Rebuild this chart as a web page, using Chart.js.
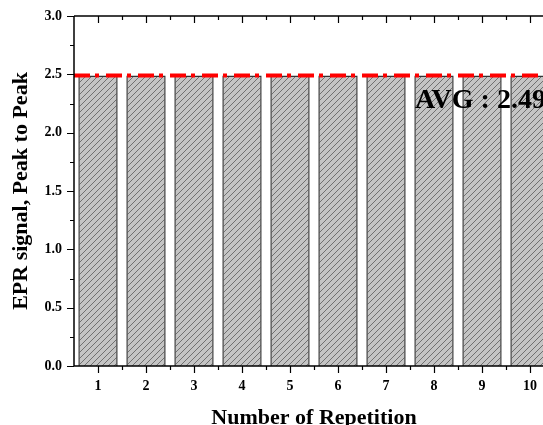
<!DOCTYPE html>
<html>
<head>
<meta charset="utf-8">
<script src="https://cdn.jsdelivr.net/npm/chart.js@4"></script>
<style>
  html, body { margin: 0; padding: 0; background: #fff; overflow: hidden; }
  #wrap { width: 560px; height: 425px; }
</style>
</head>
<body>
<div id="wrap"><canvas id="chart" width="560" height="425"></canvas></div>
<script>
const repetitions = ['1', '2', '3', '4', '5', '6', '7', '8', '9', '10'];
const peakToPeak = [2.49, 2.49, 2.49, 2.49, 2.49, 2.49, 2.49, 2.49, 2.49, 2.49];
const avgValue = 2.49;
const yTicks = [0.0, 0.5, 1.0, 1.5, 2.0, 2.5, 3.0];

const serif = "'Liberation Serif', 'DejaVu Serif', serif";

// hatch fill for the bars
function makeHatch() {
    const c = document.createElement('canvas');
    c.width = 6; c.height = 6;
    const g = c.getContext('2d');
    g.fillStyle = '#c4c4c4';
    g.fillRect(0, 0, 6, 6);
    g.strokeStyle = '#5a5a5a';
    g.lineWidth = 0.8;
    g.beginPath();
    g.moveTo(0, 6); g.lineTo(6, 0);
    g.moveTo(-1, 1); g.lineTo(1, -1);
    g.moveTo(5, 7); g.lineTo(7, 5);
    g.stroke();
    return g.createPattern(c, 'repeat');
}

// frame, ticks and average line
const framePlugin = {
    id: 'frame',
    afterDatasetsDraw(chart) {
        const { ctx, chartArea: a, scales: { x, y } } = chart;
        ctx.save();
        // average line
        const ay = y.getPixelForValue(avgValue);
        ctx.strokeStyle = '#ff0000';
        ctx.lineWidth = 4;
        ctx.setLineDash([16, 5, 4, 7]);
        ctx.beginPath();
        ctx.moveTo(a.left, ay);
        ctx.lineTo(a.right, ay);
        ctx.stroke();
        ctx.setLineDash([]);

        ctx.strokeStyle = '#000';
        ctx.lineWidth = 1.5;
        ctx.beginPath();
        ctx.moveTo(a.left, a.top); ctx.lineTo(a.right, a.top);
        ctx.moveTo(a.left, a.top); ctx.lineTo(a.left, a.bottom);
        ctx.moveTo(a.left, a.bottom); ctx.lineTo(a.right, a.bottom);
        ctx.moveTo(a.right, a.top); ctx.lineTo(a.right, a.bottom);
        ctx.stroke();

        ctx.lineWidth = 1.2;
        ctx.beginPath();
        // y ticks (major + minor), outward
        for (let v = 0; v <= 3.0001; v += 0.25) {
            const py = Math.round(y.getPixelForValue(v)) + 0.5;
            const major = Math.abs(v * 2 - Math.round(v * 2)) < 1e-6;
            ctx.moveTo(a.left, py);
            ctx.lineTo(a.left - (major ? 7 : 4), py);
        }
        // x ticks: centers major, boundaries minor
        for (let i = 0; i < repetitions.length; i++) {
            const cx = Math.round(x.getPixelForValue(i)) + 0.5;
            ctx.moveTo(cx, a.bottom); ctx.lineTo(cx, a.bottom + 7);
            ctx.moveTo(cx, a.top); ctx.lineTo(cx, a.top + 7);
            const bx = Math.round(x.getPixelForValue(i - 0.5)) + 0.5;
            if (i > 0) {
                ctx.moveTo(bx, a.bottom); ctx.lineTo(bx, a.bottom + 4);
                ctx.moveTo(bx, a.top); ctx.lineTo(bx, a.top + 4);
            }
        }
        ctx.stroke();

        // average label
        ctx.fillStyle = '#000';
        ctx.font = "bold 28px " + serif;
        ctx.textBaseline = 'alphabetic';
        ctx.textAlign = 'left';
        ctx.fillText('AVG : ' + avgValue.toFixed(2), 415, 108);
        ctx.restore();
    }
};

new Chart(document.getElementById('chart'), {
    type: 'bar',
    data: {
        labels: repetitions,
        datasets: [{
            data: peakToPeak,
            backgroundColor: makeHatch(),
            borderColor: '#333',
            borderWidth: 1.5,
            barPercentage: 0.82,
            categoryPercentage: 1.0
        }]
    },
    options: {
        responsive: false,
        animation: false,
        layout: { padding: { left: 0, right: 6, top: 16, bottom: 0 } },
        plugins: {
            legend: { display: false },
            tooltip: { enabled: false }
        },
        scales: {
            x: {
                grid: { display: false },
                border: { display: false },
                ticks: {
                    color: '#000',
                    font: { family: serif, size: 14, weight: 'bold' },
                    padding: 4,
                    maxRotation: 0
                },
                title: {
                    display: true,
                    text: 'Number of Repetition',
                    color: '#000',
                    font: { family: serif, size: 22, weight: 'bold' },
                    padding: { top: 0, bottom: -7 }
                },
                afterFit(scale) { scale.height = 59; }
            },
            y: {
                min: 0,
                max: 3.0,
                afterBuildTicks(scale) { scale.ticks = yTicks.map(v => ({ value: v })); },
                grid: { display: false },
                border: { display: false },
                ticks: {
                    color: '#000',
                    font: { family: serif, size: 14, weight: 'bold' },
                    padding: 4,
                    callback: v => v.toFixed(1)
                },
                title: {
                    display: true,
                    text: 'EPR signal, Peak to Peak',
                    color: '#000',
                    font: { family: serif, size: 22, weight: 'bold' },
                    padding: { top: 8, bottom: 0 }
                },
                afterFit(scale) { scale.width = 74; }
            }
        }
    },
    plugins: [framePlugin]
});
</script>
</body>
</html>
